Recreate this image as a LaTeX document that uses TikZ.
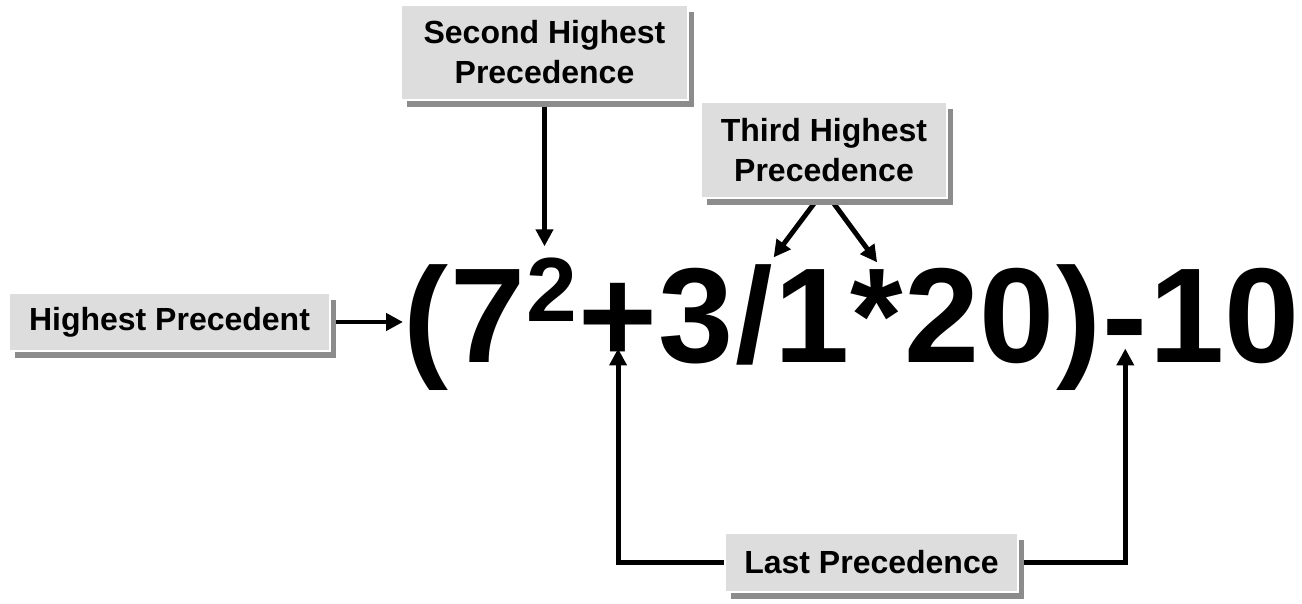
\documentclass[tikz,border=0pt]{standalone}
\usepackage{fontspec}
\setmainfont{Liberation Sans}
\usetikzlibrary{arrows.meta,positioning,shadows,backgrounds}

\definecolor{boxgray}{HTML}{DDDDDD}
\definecolor{shadowgray}{HTML}{8C8C8C}
\newcommand{\tagfont}{\fontsize{9.1pt}{11.4pt}\selectfont\bfseries}
\newcommand{\exprfont}{\fontsize{38.4pt}{38.4pt}\selectfont\bfseries}
\newcommand{\supfont}{\fontsize{25.9pt}{25.9pt}\selectfont\bfseries}

\begin{document}
\begin{tikzpicture}[
    x=0.01cm, y=-0.01cm,
    box/.style={fill=boxgray, draw=white, line width=0.4pt, align=center, inner sep=0, font=\tagfont,
      general shadow={fill=shadowgray, shadow xshift=1.7pt, shadow yshift=-2pt}},
    term/.style={inner sep=0, anchor=base west, font=\exprfont},
    link/.style={-{Triangle[length=4.8pt, width=4.8pt]}, line width=1.4pt}
]
\useasboundingbox (0,0) rectangle (1302,604);

% the expression, one piece per operand or operator
\node[term] (lpar) at (403,363) {(};
\node[term] (seven) at (lpar.base east) {7};
\node[term, font=\supfont] (sup) at ([yshift=11.9pt]seven.base east) {2};
\node[term] (plus) at (sup.base east |- seven.base) {+};
\node[term] (three) at (plus.base east) {3};
\node[term] (slash) at (three.base east) {/};
\node[term] (one) at (slash.base east) {1};
\node[term] (star) at (one.base east) {*};
\node[term] (twenty) at (star.base east) {20};
\node[term] (rpar) at (twenty.base east) {)};
\node[term] (minus) at (rpar.base east) {-};
\node[term] (ten) at (minus.base east) {10};

% labels
\node[box, minimum width=2.87cm, minimum height=0.95cm] (second) at (544.5,52.5) {Second Highest\\Precedence};
\node[box, minimum width=2.46cm, minimum height=0.96cm] (third) at (824,150) {Third Highest\\Precedence};
\node[box, minimum width=3.21cm, minimum height=0.58cm] (highest) at (169.5,322) {Highest Precedent};
\node[box, minimum width=2.93cm, minimum height=0.59cm] (last) at (871.5,562.5) {Last Precedence};

\begin{scope}[on background layer]
\draw[link] (highest.east) -- (highest.east -| lpar.west);
\draw[link] (second.south) -- ([yshift=3pt]second.south |- sup.north);
\draw[link] ([xshift=-1.8pt]third.south) -- ([yshift=2pt]slash.north east);
\draw[link] ([xshift=1.8pt]third.south) -- ([yshift=2pt]star.north);
\draw[link] (last.west) -| ([yshift=4.3pt]plus.south);
\draw[link] (last.east) -| ([yshift=4.3pt]minus.south);
\end{scope}
\end{tikzpicture}
\end{document}
